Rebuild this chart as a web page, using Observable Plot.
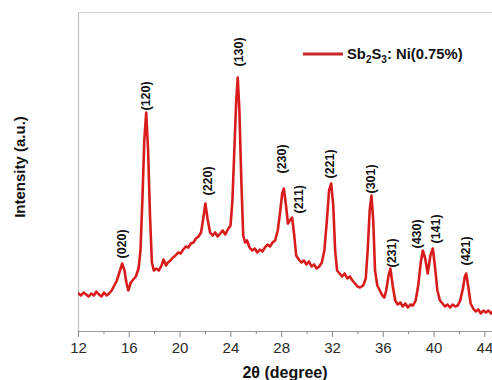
<!DOCTYPE html>
<html><head><meta charset="utf-8">
<script src="https://cdn.jsdelivr.net/npm/d3@7"></script>
<script src="https://cdn.jsdelivr.net/npm/@observablehq/plot@0.6"></script>
<style>body{margin:0;background:#fff;} #chart{width:492px;height:380px;}</style>
</head><body><div id="chart"></div>
<script>
// XRD pattern, Sb2S3: Ni(0.75%) — 2θ (degree) vs intensity (a.u.)
const twoTheta = [12.0,12.2,12.4,12.6,12.8,13.01,13.21,13.41,13.61,13.81,14.01,14.21,14.41,14.61,14.82,15.02,15.22,15.44,15.62,15.77,15.92,16.12,16.32,16.52,16.73,16.88,17.03,17.18,17.33,17.48,17.63,17.78,17.93,18.13,18.33,18.54,18.70,18.89,19.04,19.24,19.44,19.64,19.84,20.04,20.25,20.45,20.65,20.85,21.05,21.25,21.45,21.65,21.80,21.99,22.16,22.36,22.56,22.76,22.96,23.16,23.36,23.56,23.76,23.97,24.12,24.27,24.42,24.54,24.67,24.82,24.97,25.12,25.27,25.47,25.67,25.88,26.08,26.28,26.48,26.68,26.88,27.08,27.28,27.48,27.69,27.89,28.04,28.17,28.34,28.49,28.64,28.82,28.99,29.14,29.35,29.55,29.75,29.95,30.15,30.35,30.55,30.75,30.95,31.16,31.36,31.56,31.73,31.90,32.06,32.21,32.36,32.56,32.76,32.96,33.17,33.37,33.57,33.77,33.97,34.17,34.42,34.62,34.77,34.93,35.07,35.21,35.35,35.53,35.73,35.93,36.08,36.23,36.40,36.56,36.74,36.94,37.14,37.34,37.54,37.74,37.94,38.14,38.34,38.55,38.75,38.95,39.11,39.30,39.50,39.71,39.90,40.06,40.26,40.46,40.66,40.86,41.06,41.26,41.46,41.66,41.86,42.06,42.27,42.42,42.53,42.68,42.88,43.08,43.28,43.48,43.68,43.88,44.08,44.28,44.48,44.62];
const intensity = [38,36,39,37,35,38,36,40,37,35,39,36,38,41,46,51,59,68,61,49,41,49,52,55,63,81,131,191,219,181,116,69,61,63,61,66,72,66,69,71,74,76,79,78,82,85,84,88,89,93,95,99,111,128,113,99,96,99,95,98,101,97,102,106,131,181,231,254,221,151,96,89,91,84,81,83,79,82,80,84,87,85,89,91,101,121,138,143,126,108,111,114,96,76,72,69,71,67,70,65,67,63,65,69,81,111,141,148,126,81,61,58,55,58,53,55,51,48,45,44,46,53,81,121,136,111,61,46,41,36,34,41,55,63,46,31,27,29,25,28,24,27,26,31,46,69,81,73,58,76,83,66,41,31,28,25,27,24,27,25,26,31,43,55,58,46,28,23,20,22,18,21,19,21,18,20];

// Miller-index peak labels
const peakNames = ["(020)","(120)","(220)","(130)","(230)","(211)","(221)","(301)","(231)","(430)","(141)","(421)"];
const peakLabelTheta = [15.39,17.31,22.16,24.62,28.06,29.40,31.84,35.07,36.72,38.69,40.19,42.55];
const peakLabelBase = [73,221,136,265,158,118,153,138,64,83,88,66];

const xTicks = [12,16,20,24,28,32,36,40,44];
const xMinorTicks = [14,18,22,26,30,34,38,42];
const seriesLabel = [["Sb",false],["2",true],["S",false],["3",true],[": Ni(0.75%)",false]];
const xTitle = "2θ (degree)";
const yTitle = "Intensity (a.u.)";

const pattern = twoTheta.map((t, i) => ({t, v: intensity[i]}));
const labels = peakNames.map((n, i) => ({n, t: peakLabelTheta[i], v: peakLabelBase[i]}));

const FONT = "'Liberation Sans', Arial, Helvetica, sans-serif";
const plot = Plot.plot({
  width: 492, height: 380,
  marginLeft: 78, marginRight: 0, marginTop: 12, marginBottom: 49,
  x: {domain: [12, 44.6]},
  y: {domain: [0, 319], axis: null},
  style: {fontFamily: FONT, background: "#fff", overflow: "visible"},
  marks: [
    Plot.ruleX([12], {stroke: "#bdbdbd", strokeWidth: 1.2}),
    Plot.ruleY([319], {stroke: "#cfcfcf", strokeWidth: 1.2}),
    Plot.ruleY([0], {stroke: "#9a9a9a", strokeWidth: 1.2}),
    Plot.axisX(xMinorTicks, {tickSize: 3, tickFormat: () => "", stroke: "#888", label: null}),
    Plot.axisX(xTicks, {tickSize: 6, tickPadding: 5, fontSize: 15, stroke: "#888", fill: "#2a2a2a", label: null}),
    Plot.line(pattern, {x: "t", y: "v", stroke: "#d81c1c", strokeWidth: 2.6, clip: true}),
    Plot.text(labels, {x: "t", y: "v", text: "n", rotate: -90, textAnchor: "start", fontWeight: "bold", fontSize: 12.5, fill: "#111"})
  ]
});
document.getElementById("chart").appendChild(plot);

const svg = d3.select(plot);
svg.append("text")
  .attr("x", 285).attr("y", 378)
  .attr("text-anchor", "middle")
  .attr("font-family", FONT).attr("font-weight", "bold").attr("font-size", 16)
  .attr("fill", "#111").text(xTitle);
svg.append("text")
  .attr("transform", "translate(25,167) rotate(-90)")
  .attr("text-anchor", "middle")
  .attr("font-family", FONT).attr("font-weight", "bold").attr("font-size", 15)
  .attr("fill", "#111").text(yTitle);

// legend
svg.append("line")
  .attr("x1", 303).attr("x2", 343).attr("y1", 54).attr("y2", 54)
  .attr("stroke", "#c8262b").attr("stroke-width", 3);
const lt = svg.append("text")
  .attr("x", 347).attr("y", 59)
  .attr("text-anchor", "start")
  .attr("font-family", FONT).attr("font-weight", "bold").attr("font-size", 14.8)
  .attr("fill", "#111");
seriesLabel.forEach(([s, sub], i) => {
  const ts = lt.append("tspan").text(s);
  if (sub) ts.attr("font-size", 10).attr("dy", 4);
  else if (i > 0) ts.attr("dy", -4);
});
</script>
</body></html>
